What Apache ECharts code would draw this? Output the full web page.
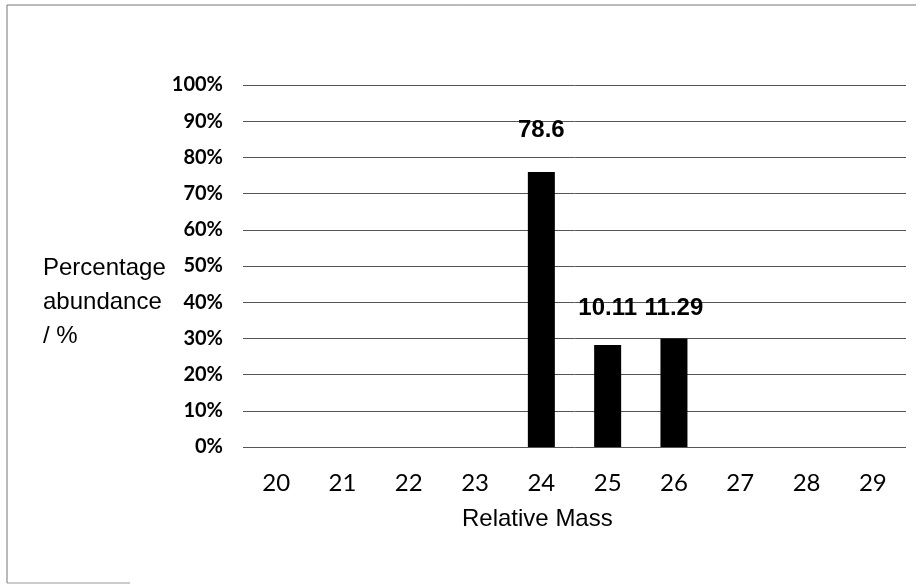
<!DOCTYPE html>
<html>
<head>
<meta charset="utf-8">
<style>
  html, body { margin: 0; padding: 0; background: #fff; }
  #chart { width: 923px; height: 587px; }
</style>
<script src="https://cdn.jsdelivr.net/npm/echarts@6/dist/echarts.min.js"></script>
</head>
<body>
<div id="chart"></div>
<script>
// Data
const categories = ['20', '21', '22', '23', '24', '25', '26', '27', '28', '29'];
const abundance = [0, 0, 0, 0, 76, 28.2, 30, 0, 0, 0];     // bar heights (%)
const barLabels = ['', '', '', '', '78.6', '10.11', '11.29', '', '', ''];
const labelDistance = [0, 0, 0, 0, 30, 25, 18, 0, 0, 0];
const yTicks = [0, 10, 20, 30, 40, 50, 60, 70, 80, 90, 100];

const chart = echarts.init(document.getElementById('chart'));

const seriesData = abundance.map((v, i) => ({
  value: v,
  label: barLabels[i] ? { show: true, distance: labelDistance[i] } : { show: false }
}));

chart.setOption({
  animation: false,
  backgroundColor: '#ffffff',
  grid: { left: 243, right: 17, top: 85, bottom: 140, containLabel: false },
  xAxis: {
    type: 'category',
    data: categories,
    axisLine: { show: false },
    axisTick: { show: false },
    axisLabel: {
      margin: 24,
      fontFamily: 'Lato',
      fontSize: 24,
      color: '#000'
    }
  },
  yAxis: {
    type: 'value',
    min: yTicks[0],
    max: yTicks[yTicks.length - 1],
    interval: 10,
    axisLine: { show: false },
    axisTick: { show: false },
    axisLabel: {
      margin: 20,
      fontFamily: 'Lato',
      fontWeight: 'bold',
      fontSize: 20,
      color: '#000',
      formatter: v => v + '%'
    },
    splitLine: { lineStyle: { color: '#555', width: 1 } }
  },
  series: [{
    type: 'bar',
    data: seriesData,
    barWidth: 27,
    itemStyle: { color: '#000' },
    label: {
      position: 'top',
      fontFamily: '"Liberation Sans", Arial',
      fontWeight: 'bold',
      fontSize: 24,
      color: '#000',
      formatter: p => barLabels[p.dataIndex]
    }
  }],
  graphic: [
    {
      type: 'text',
      left: 43, top: 251,
      style: {
        text: 'Percentage\nabundance\n/ %',
        font: '24px "Liberation Sans", Arial',
        lineHeight: 34,
        fill: '#000'
      }
    },
    {
      type: 'text',
      left: 462, top: 507,
      style: {
        text: 'Relative Mass',
        font: '24px "Liberation Sans", Arial',
        fill: '#000'
      }
    },
    { type: 'line', shape: { x1: 7, y1: 5, x2: 916, y2: 5 }, style: { stroke: '#777', lineWidth: 1 } },
    { type: 'line', shape: { x1: 7, y1: 5, x2: 7, y2: 583 }, style: { stroke: '#777', lineWidth: 1 } },
    { type: 'line', shape: { x1: 7, y1: 583, x2: 130, y2: 583 }, style: { stroke: '#999', lineWidth: 1 } }
  ]
});
</script>
</body>
</html>
